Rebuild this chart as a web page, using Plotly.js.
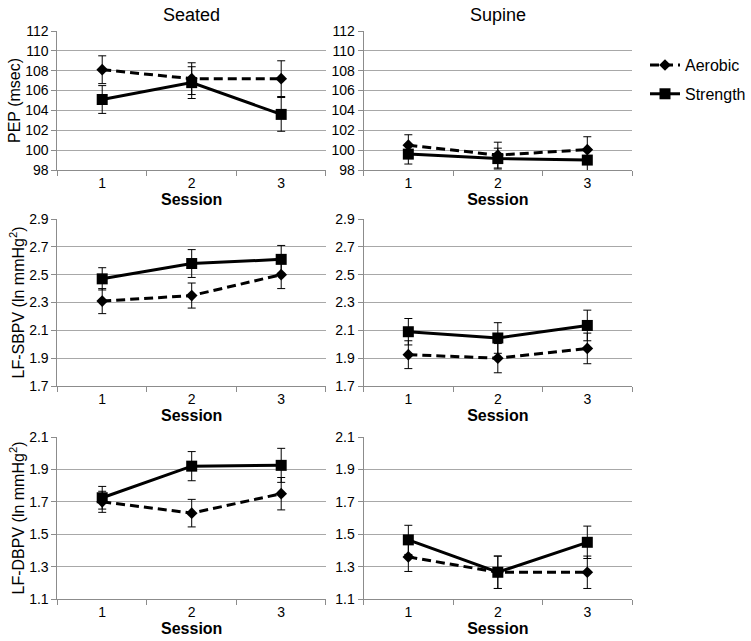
<!DOCTYPE html>
<html>
<head>
<meta charset="utf-8">
<script src="https://cdn.plot.ly/plotly-3.0.1.min.js"></script>
<style>html,body{margin:0;padding:0;background:#fff;}#chart{width:751px;height:641px;}</style>
</head>
<body>
<div id="chart"></div>
<script>
// ---- data ----
const sessions = [1, 2, 3];
const sessionLabels = ['1', '2', '3'];
const columnTitles = ['Seated', 'Supine'];
const seriesNames = ['Aerobic', 'Strength'];
const rowTitles = ['PEP (msec)', 'LF-SBPV (ln mmHg<sup>2</sup>)', 'LF-DBPV (ln mmHg<sup>2</sup>)'];

const pepSeatedAerobic = [108.1, 107.2, 107.2];
const pepSeatedAerobicErr = [1.4, 1.6, 1.8];
const pepSeatedStrength = [105.1, 106.8, 103.6];
const pepSeatedStrengthErr = [1.4, 1.6, 1.7];
const pepSupineAerobic = [100.5, 99.5, 100.05];
const pepSupineAerobicErr = [1.05, 1.3, 1.3];
const pepSupineStrength = [99.6, 99.15, 99.0];
const pepSupineStrengthErr = [1.0, 1.05, 1.15];

const sbpvSeatedAerobic = [2.31, 2.35, 2.50];
const sbpvSeatedAerobicErr = [0.09, 0.09, 0.10];
const sbpvSeatedStrength = [2.47, 2.58, 2.61];
const sbpvSeatedStrengthErr = [0.08, 0.10, 0.10];
const sbpvSupineAerobic = [1.925, 1.90, 1.97];
const sbpvSupineAerobicErr = [0.10, 0.105, 0.11];
const sbpvSupineStrength = [2.09, 2.045, 2.135];
const sbpvSupineStrengthErr = [0.095, 0.11, 0.11];

const dbpvSeatedAerobic = [1.70, 1.63, 1.75];
const dbpvSeatedAerobicErr = [0.065, 0.085, 0.10];
const dbpvSeatedStrength = [1.725, 1.92, 1.925];
const dbpvSeatedStrengthErr = [0.07, 0.09, 0.105];
const dbpvSupineAerobic = [1.36, 1.265, 1.265];
const dbpvSupineAerobicErr = [0.09, 0.10, 0.10];
const dbpvSupineStrength = [1.465, 1.265, 1.45];
const dbpvSupineStrengthErr = [0.09, 0.10, 0.10];

const pepTicks = [98, 100, 102, 104, 106, 108, 110, 112];
const sbpvTicks = [1.7, 1.9, 2.1, 2.3, 2.5, 2.7, 2.9];
const dbpvTicks = [1.1, 1.3, 1.5, 1.7, 1.9, 2.1];

// ---- panels ----
const panels = [
  {a: pepSeatedAerobic, ae: pepSeatedAerobicErr, s: pepSeatedStrength, se: pepSeatedStrengthErr, ticks: pepTicks, fmt: 'd', row: 0, col: 0},
  {a: pepSupineAerobic, ae: pepSupineAerobicErr, s: pepSupineStrength, se: pepSupineStrengthErr, ticks: pepTicks, fmt: 'd', row: 0, col: 1},
  {a: sbpvSeatedAerobic, ae: sbpvSeatedAerobicErr, s: sbpvSeatedStrength, se: sbpvSeatedStrengthErr, ticks: sbpvTicks, fmt: '.1f', row: 1, col: 0},
  {a: sbpvSupineAerobic, ae: sbpvSupineAerobicErr, s: sbpvSupineStrength, se: sbpvSupineStrengthErr, ticks: sbpvTicks, fmt: '.1f', row: 1, col: 1},
  {a: dbpvSeatedAerobic, ae: dbpvSeatedAerobicErr, s: dbpvSeatedStrength, se: dbpvSeatedStrengthErr, ticks: dbpvTicks, fmt: '.1f', row: 2, col: 0},
  {a: dbpvSupineAerobic, ae: dbpvSupineAerobicErr, s: dbpvSupineStrength, se: dbpvSupineStrengthErr, ticks: dbpvTicks, fmt: '.1f', row: 2, col: 1}
];

const W = 751, H = 641;
const colPx = [[58, 329], [367, 638]];
const rowPx = [[31, 170], [219, 386], [437, 599]];
const FONT = 'Liberation Sans, Arial, sans-serif';
const gridColor = '#a8a8a8';
const axisColor = '#8c8c8c';

const traces = [];
const layout = {
  width: W, height: H,
  margin: {l: 0, r: 0, t: 0, b: 0},
  paper_bgcolor: '#fff', plot_bgcolor: '#fff',
  font: {family: FONT, color: '#000', size: 14},
  showlegend: true,
  legend: {x: 0.8675, y: 0.925, xanchor: 'left', yanchor: 'top', font: {size: 16, family: FONT}, bgcolor: 'rgba(0,0,0,0)', tracegroupgap: 5},
  annotations: []
};

panels.forEach((p, i) => {
  const k = i + 1;
  const xa = 'x' + (k === 1 ? '' : k), ya = 'y' + (k === 1 ? '' : k);
  const xk = 'xaxis' + (k === 1 ? '' : k), yk = 'yaxis' + (k === 1 ? '' : k);
  const showLeg = i === 0;
  traces.push({
    type: 'scatter', mode: 'lines+markers', x: sessions, y: p.a, xaxis: xa, yaxis: ya,
    name: seriesNames[0], legendgroup: 'a', showlegend: showLeg,
    line: {color: '#000', width: 3, dash: '9px,5px'},
    marker: {symbol: 'diamond', size: 9, color: '#000'},
    error_y: {type: 'data', array: p.ae, visible: true, color: '#000', thickness: 1, width: 4},
    cliponaxis: false
  });
  traces.push({
    type: 'scatter', mode: 'lines+markers', x: sessions, y: p.s, xaxis: xa, yaxis: ya,
    name: seriesNames[1], legendgroup: 's', showlegend: showLeg,
    line: {color: '#000', width: 3},
    marker: {symbol: 'square', size: 11, color: '#000'},
    error_y: {type: 'data', array: p.se, visible: true, color: '#000', thickness: 1, width: 4},
    cliponaxis: false
  });
  const cx = colPx[p.col], ry = rowPx[p.row];
  layout[xk] = {
    domain: [cx[0] / W, cx[1] / W], anchor: ya,
    range: [0.5, 3.5], tickmode: 'array', tickvals: sessions, ticktext: sessionLabels,
    ticks: '', showgrid: false, zeroline: false,
    showline: true, linecolor: axisColor, linewidth: 1,
    tickfont: {size: 14, family: FONT, color: '#000'},
    minor: {tickmode: 'array', tickvals: [0.5, 1.5, 2.5, 3.5], ticks: 'outside', ticklen: 5, tickcolor: axisColor, tickwidth: 1, showgrid: false},
    title: {text: 'Session', font: {size: 16, family: FONT, weight: 'bold', color: '#000'}, standoff: 1},
    fixedrange: true
  };
  const yax = {
    domain: [1 - ry[1] / H, 1 - ry[0] / H], anchor: xa,
    range: [p.ticks[0], p.ticks[p.ticks.length - 1]],
    tickmode: 'array', tickvals: p.ticks, tickformat: p.fmt,
    ticks: 'outside', ticklen: 5, tickcolor: axisColor,
    showgrid: true, gridcolor: gridColor, gridwidth: 1, zeroline: false,
    showline: true, linecolor: axisColor, linewidth: 1,
    tickfont: {size: 14, family: FONT, color: '#000'},
    fixedrange: true
  };
  if (p.col === 0) {
    yax.title = {text: rowTitles[p.row], font: {size: 16, family: FONT, color: '#000'}, standoff: 0};
  }
  layout[yk] = yax;
});

columnTitles.forEach((t, c) => {
  layout.annotations.push({
    text: t, xref: 'paper', yref: 'paper',
    x: (colPx[c][0] + colPx[c][1]) / 2 / W, y: 1 - 15 / H,
    xanchor: 'center', yanchor: 'middle', showarrow: false,
    font: {size: 18, family: FONT, color: '#000'}
  });
});

Plotly.newPlot('chart', traces, layout, {displayModeBar: false, staticPlot: true});
</script>
</body>
</html>
